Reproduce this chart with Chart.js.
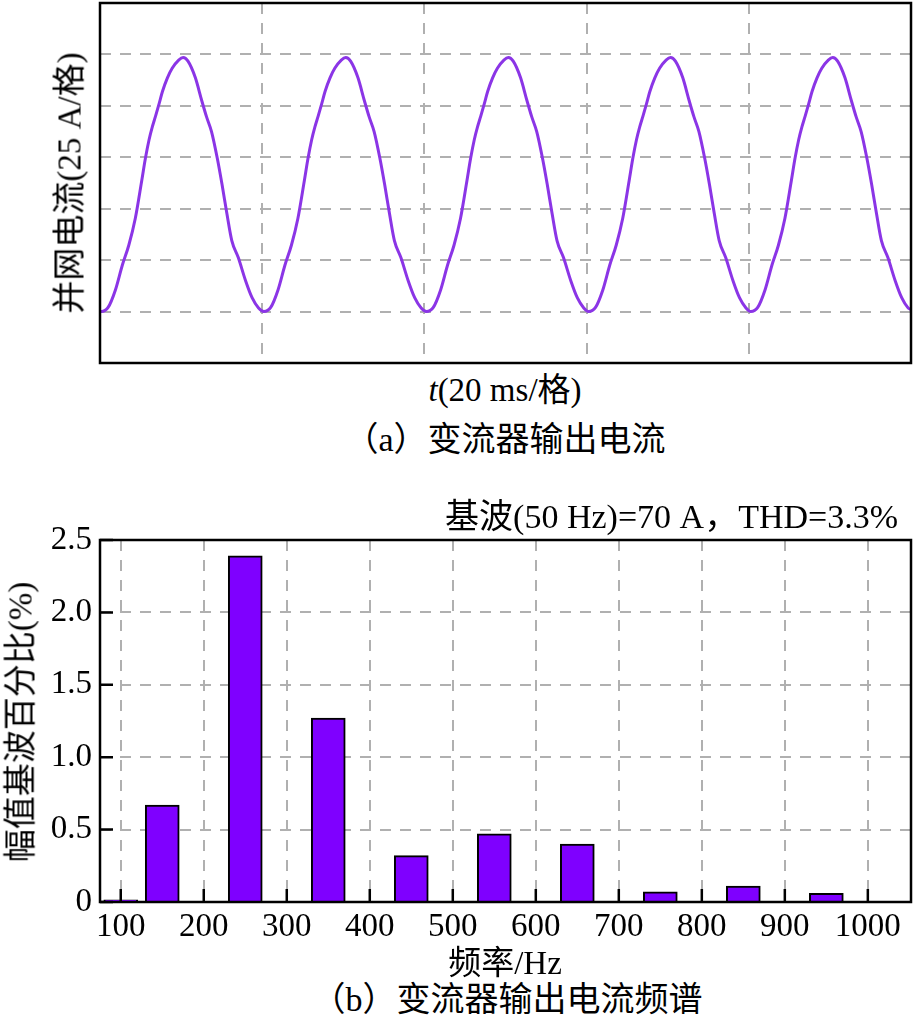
<!DOCTYPE html>
<html><head><meta charset="utf-8">
<script src="https://cdn.jsdelivr.net/npm/chart.js@4/dist/chart.umd.min.js"></script>
<style>
html,body{margin:0;padding:0;background:#fff;}
body{width:917px;height:1021px;position:relative;overflow:hidden;font-family:'Liberation Serif','Noto Sans CJK SC',serif;color:#000;}
canvas{position:absolute;left:0;}
.t{position:absolute;white-space:nowrap;font-size:33px;line-height:1;transform:translate(-50%,-50%);}
.v{transform:translate(-50%,-50%) rotate(-90deg);}
.r{position:absolute;white-space:nowrap;font-size:34px;line-height:1;transform:translateY(-50%);}
</style></head><body>
<canvas id="c1" width="917" height="370" style="top:0"></canvas>
<canvas id="c2" width="917" height="480" style="top:480px"></canvas>
<div class="t v" style="left:70px;top:183px">并网电流(25 A/格)</div>
<div class="t" style="left:505px;top:390px"><i>t</i>(20 ms/格)</div>
<div class="t" style="left:505px;top:440px;font-size:34px">（a）变流器输出电流</div>
<div class="r" style="right:19px;top:517px">基波(50 Hz)=70 A，THD=3.3%</div>
<div class="t v" style="left:21px;top:722px">幅值基波百分比(%)</div>
<div class="t" style="left:505px;top:963px">频率/Hz</div>
<div class="t" style="left:507px;top:1000px;font-size:34px">（b）变流器输出电流频谱</div>
<script>
// ---- (a) grid-current waveform (x: ms, y: divisions) ----
const timeMs = [
 0,0.15,1.0,1.9,2.75,3.55,4.35,5.15,5.6,6.05,6.45,6.85,7.3,7.7,8.3,8.9,9.7,10.25,10.85,11.75,12.55,13.15,13.75,14.45,15.05,15.65,16.25,17.05,17.95,18.75,19.55,
 20.2,21.05,21.95,22.8,23.6,24.4,25.2,25.65,26.1,26.5,26.9,27.35,27.75,28.35,28.95,29.75,30.3,30.9,31.8,32.6,33.2,33.8,34.5,35.1,35.7,36.3,37.1,38.0,38.8,39.6,
 40.25,41.1,42.0,42.85,43.65,44.45,45.25,45.7,46.15,46.55,46.95,47.4,47.8,48.4,49.0,49.8,50.35,50.95,51.85,52.65,53.25,53.85,54.55,55.15,55.75,56.35,57.15,58.05,58.85,59.65,
 60.25,61.1,62.0,62.85,63.65,64.45,65.25,65.7,66.15,66.55,66.95,67.4,67.8,68.4,69.0,69.8,70.35,70.95,71.85,72.65,73.25,73.85,74.55,75.15,75.75,76.35,77.15,78.05,78.85,79.65,
 80.25,81.1,82.0,82.85,83.65,84.45,85.25,85.7,86.15,86.55,86.95,87.4,87.8,88.4,89.0,89.8,90.35,90.95,91.85,92.65,93.25,93.85,94.55,95.15,95.75,96.35,97.15,98.05,98.85,99.65,100.0
];
const currentDiv = [
 1.01,1.00,1.08,1.42,1.90,2.29,2.81,3.55,3.98,4.34,4.59,4.80,5.05,5.28,5.54,5.73,5.89,5.94,5.87,5.55,5.10,4.78,4.50,3.99,3.47,2.90,2.38,2.05,1.60,1.27,1.07,
 1.00,1.08,1.42,1.90,2.29,2.81,3.55,3.98,4.34,4.59,4.80,5.05,5.28,5.54,5.73,5.89,5.94,5.87,5.55,5.10,4.78,4.50,3.99,3.47,2.90,2.38,2.05,1.60,1.27,1.07,
 1.00,1.08,1.42,1.90,2.29,2.81,3.55,3.98,4.34,4.59,4.80,5.05,5.28,5.54,5.73,5.89,5.94,5.87,5.55,5.10,4.78,4.50,3.99,3.47,2.90,2.38,2.05,1.60,1.27,1.07,
 1.00,1.08,1.42,1.90,2.29,2.81,3.55,3.98,4.34,4.59,4.80,5.05,5.28,5.54,5.73,5.89,5.94,5.87,5.55,5.10,4.78,4.50,3.99,3.47,2.90,2.38,2.05,1.60,1.27,1.07,
 1.00,1.08,1.42,1.90,2.29,2.81,3.55,3.98,4.34,4.59,4.80,5.05,5.28,5.54,5.73,5.89,5.94,5.87,5.55,5.10,4.78,4.50,3.99,3.47,2.90,2.38,2.05,1.60,1.27,1.07,1.04
];
const gridTimeMs = [0,20,40,60,80,100];
const gridDiv = [0,1,2,3,4,5,6,7];

// ---- (b) harmonic spectrum ----
const harmonicHz  = [100,150,250,350,450,550,650,750,850,950];
const harmonicPct = [0.015,0.67,2.39,1.27,0.32,0.47,0.40,0.07,0.11,0.06];
const freqTicks   = [100,200,300,400,500,600,700,800,900,1000];
const pctTicks    = [0,0.5,1.0,1.5,2.0,2.5];
const pctTickLabels = ['0','0.5','1.0','1.5','2.0','2.5'];

const FONT = "'Liberation Serif','Noto Sans CJK SC',serif";
const GRID = {color:'#b0b0b0', lineWidth:2, drawTicks:false};
const DASH = {display:false, dash:[11,9]};

const frame = {id:'frame', afterDatasetsDraw(chart){
  const {ctx, chartArea:a} = chart;
  ctx.save(); ctx.strokeStyle='#000'; ctx.lineWidth=2.5;
  ctx.strokeRect(a.left, a.top, a.right-a.left, a.bottom-a.top);
  ctx.restore();
}};
const inward = {id:'inward', afterDatasetsDraw(chart){
  const {ctx, chartArea:a, scales:{x,y}} = chart;
  ctx.save(); ctx.strokeStyle='#000'; ctx.lineWidth=2.5; ctx.beginPath();
  y.ticks.forEach(t=>{const p=y.getPixelForValue(t.value); ctx.moveTo(a.left,p); ctx.lineTo(a.left+13,p);});
  x.ticks.forEach(t=>{const p=x.getPixelForValue(t.value); ctx.moveTo(p,a.bottom); ctx.lineTo(p,a.bottom-13);});
  ctx.stroke(); ctx.restore();
}};

new Chart(document.getElementById('c1'), {
  type:'line',
  data:{datasets:[{data: timeMs.map((t,i)=>({x:t, y:currentDiv[i]})),
    borderColor:'#8b35e6', borderWidth:3, pointRadius:0, fill:false,
    cubicInterpolationMode:'monotone'}]},
  options:{
    responsive:false, animation:false, events:[],
    layout:{padding:{left:100, top:3, right:6, bottom:7}},
    plugins:{legend:{display:false}, tooltip:{enabled:false}},
    scales:{
      x:{type:'linear', min:0, max:100, ticks:{display:false}, grid:GRID, border:DASH,
         afterBuildTicks:s=>{s.ticks = gridTimeMs.map(v=>({value:v}));},
         afterFit:s=>{s.height=0;}},
      y:{type:'linear', min:0, max:7, ticks:{display:false}, grid:GRID, border:DASH,
         afterBuildTicks:s=>{s.ticks = gridDiv.map(v=>({value:v}));},
         afterFit:s=>{s.width=0;}}
    }
  },
  plugins:[frame]
});

new Chart(document.getElementById('c2'), {
  type:'bar',
  data:{datasets:[{data: harmonicHz.map((f,i)=>({x:f, y:harmonicPct[i]})),
    backgroundColor:'#7f00ff', borderColor:'#000', borderWidth:2, barThickness:34}]},
  options:{
    responsive:false, animation:false, events:[],
    layout:{padding:{left:0, top:60, right:6, bottom:0}},
    plugins:{legend:{display:false}, tooltip:{enabled:false}},
    scales:{
      x:{type:'linear', min:75, max:1052, offset:false, grid:Object.assign({offset:false},GRID), border:DASH,
         afterBuildTicks:s=>{s.ticks = freqTicks.map(v=>({value:v}));},
         ticks:{autoSkip:false, maxRotation:0, padding:6, color:'#000', font:{family:FONT, size:33},
                callback:v=>String(v)},
         afterFit:s=>{s.height=58;}},
      y:{type:'linear', min:0, max:2.5, grid:GRID, border:DASH,
         afterBuildTicks:s=>{s.ticks = pctTicks.map(v=>({value:v}));},
         ticks:{padding:8, color:'#000', font:{family:FONT, size:33},
                callback:(v,i)=>pctTickLabels[i]},
         afterFit:s=>{s.width=100;}}
    }
  },
  plugins:[frame, inward]
});
</script>
</body></html>
